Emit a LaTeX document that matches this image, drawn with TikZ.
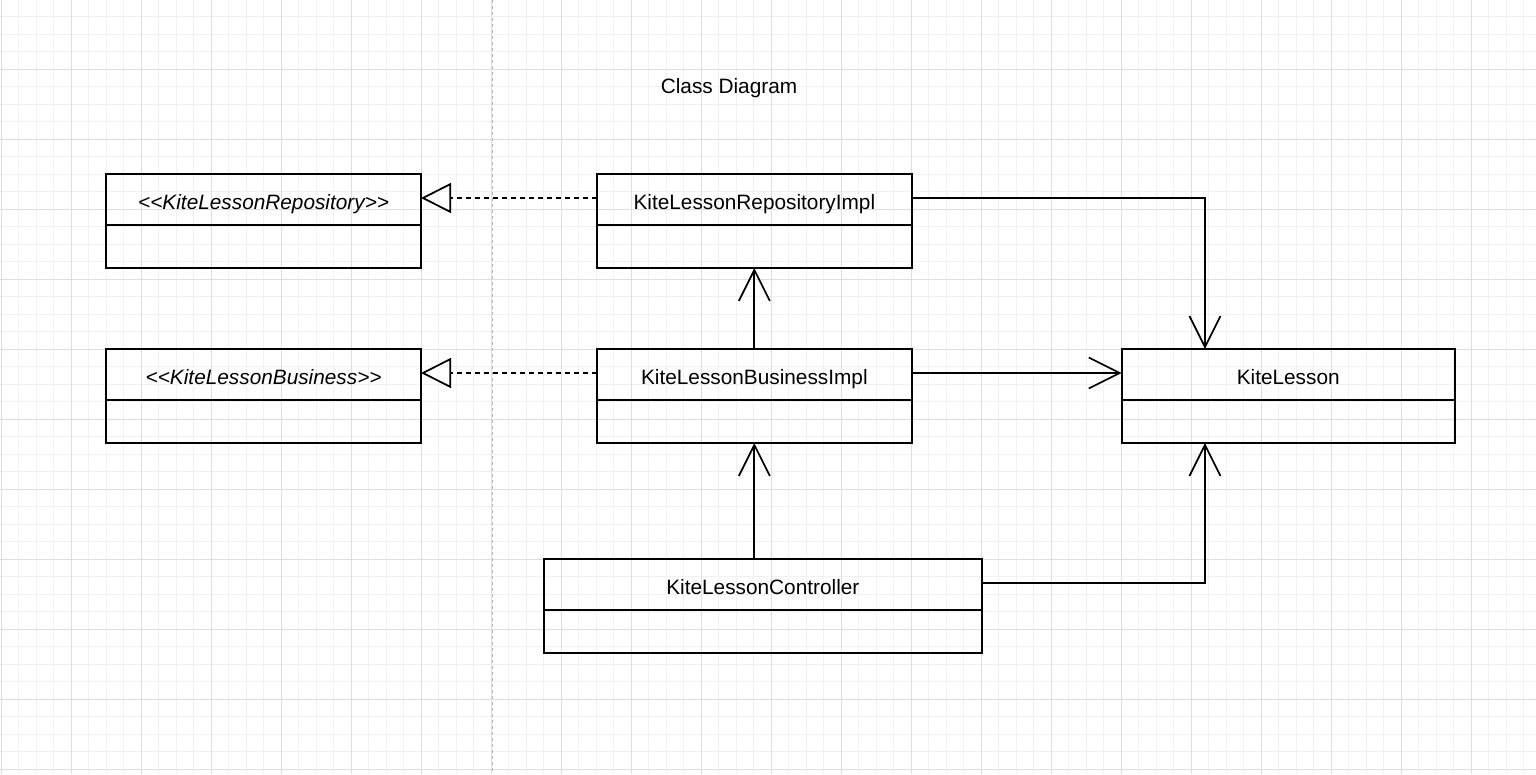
\documentclass[tikz,border=0pt]{standalone}
\usepackage{fontspec}
\setmainfont{Liberation Sans}
\usepackage{tikz}
\usetikzlibrary{arrows.meta,positioning,calc}
\definecolor{gridminor}{RGB}{241,241,241}
\definecolor{gridmajor}{RGB}{222,222,222}
\definecolor{sepgray}{RGB}{185,185,185}

\begin{document}
\begin{tikzpicture}[x=1pt, y=-1pt, >=Stealth]
\tikzset{
  hd/.style={draw, line width=1.75pt, inner sep=0pt, outer sep=0pt, minimum height=51pt, text height=19.5pt, text depth=0pt, font=\fontsize{20.8}{24}\selectfont},
  bd/.style={draw, line width=1.75pt, inner sep=0pt, outer sep=0pt, minimum height=43pt},
  assoc/.style={line width=1.75pt, -{Straight Barb[length=31pt, width=31pt]}},
  real/.style={line width=1.75pt, dash pattern=on 5.5pt off 3.5pt, -{Triangle[open, length=30pt, width=30pt]}}
}
\useasboundingbox (0,0) rectangle (1536,774);
\begin{scope}
\clip (0,0) rectangle (1536,774);
\foreach \k in {0,...,87} \draw[gridminor, line width=1pt] (1.3+17.5*\k,0) -- ++(0,774);
\foreach \k in {0,...,44} \draw[gridminor, line width=1pt] (0,-0.7+17.5*\k) -- ++(1536,0);
\foreach \k in {0,...,21} \draw[gridmajor, line width=1pt] (1.3+70*\k,0) -- ++(0,774);
\foreach \k in {1,...,11} \draw[gridmajor, line width=1pt] (0,-0.7+70*\k) -- ++(1536,0);
\draw[sepgray, line width=1pt, dash pattern=on 3pt off 3pt] (492,0) -- (492,774);
\end{scope}

\node[font=\fontsize{20.8}{24}\selectfont] (title) at (729,88) {Class Diagram};

\node[hd, minimum width=314.7pt, anchor=north west] (repoI) at (106.3,174) {\textit{<{}<KiteLessonRepository>{}>}};
\node[bd, minimum width=314.7pt, below=0pt of repoI] (repoIb) {};
\node[hd, minimum width=314.7pt, right=176pt of repoI] (repoImpl) {KiteLessonRepositoryImpl};
\node[bd, minimum width=314.7pt, below=0pt of repoImpl] (repoImplb) {};

\node[hd, minimum width=314.7pt, below=81pt of repoIb] (busI) {\textit{<{}<KiteLessonBusiness>{}>}};
\node[bd, minimum width=314.7pt, below=0pt of busI] (busIb) {};
\node[hd, minimum width=314.7pt, right=176pt of busI] (busImpl) {KiteLessonBusinessImpl};
\node[bd, minimum width=314.7pt, below=0pt of busImpl] (busImplb) {};

\node[hd, minimum width=333pt, right=210pt of busImpl] (lesson) {KiteLesson};
\node[bd, minimum width=333pt, below=0pt of lesson] (lessonb) {};

\node[hd, minimum width=437.7pt, anchor=north west] (ctrl) at (544,559) {KiteLessonController};
\node[bd, minimum width=437.7pt, below=0pt of ctrl] (ctrlb) {};

\coordinate (lt) at ($(lesson.north west)!0.25!(lesson.north east)$);
\coordinate (lb) at ($(lessonb.south west)!0.25!(lessonb.south east)$);

\draw[real] ([yshift=1.5pt]repoImpl.west) -- ([yshift=1.5pt]repoI.east);
\draw[real] ([yshift=1.5pt]busImpl.west) -- ([yshift=1.5pt]busI.east);
\draw[assoc] (busImpl.north) -- (repoImplb.south);
\draw[assoc] (ctrl.north -| busImplb.south) -- (busImplb.south);
\draw[assoc] ([yshift=1.5pt]busImpl.east) -- ([yshift=1.5pt]lesson.west);
\draw[assoc] ([yshift=1.5pt]repoImpl.east) -| (lt);
\draw[assoc] ([yshift=1.5pt]ctrl.east) -| (lb);
\end{tikzpicture}
\end{document}
